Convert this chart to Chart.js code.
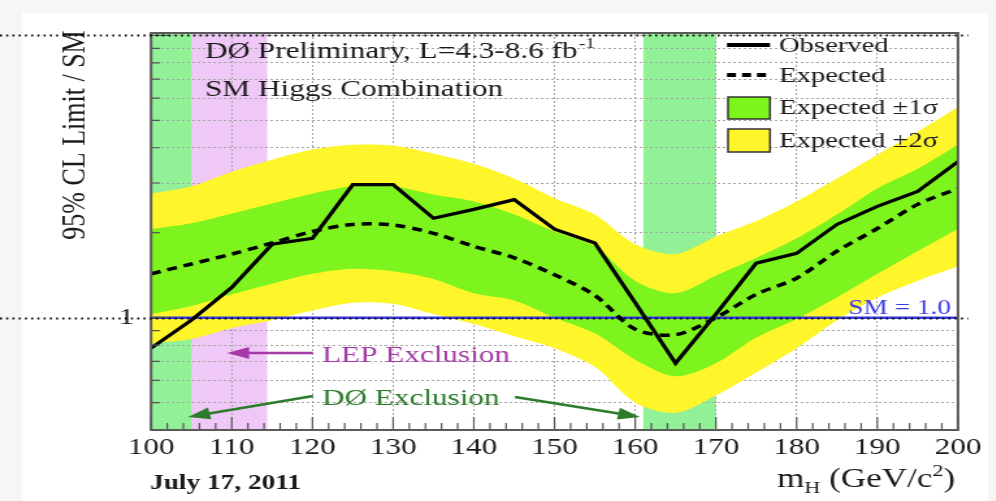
<!DOCTYPE html>
<html>
<head>
<meta charset="utf-8">
<script src="https://cdn.jsdelivr.net/npm/chart.js@4.4.0/dist/chart.umd.min.js"></script>
<style>
  html, body { margin: 0; padding: 0; background: #f6f6f6; overflow: hidden; }
  /* the reference is stretched sideways and soft, so draw narrow and stretch */
  #wrap { width: 766px; height: 501px; transform: scaleX(1.3); transform-origin: 0 0; filter: blur(0.45px); }
</style>
</head>
<body>
<div id="wrap"><canvas id="limitChart"></canvas></div>
<script>
// Higgs mass points (GeV/c^2)
const massPoints = [100, 105, 110, 115, 120, 125, 130, 135, 140, 145, 150, 155, 160, 165, 170, 175, 180, 185, 190, 195, 200];

// 95% CL limit / SM
const observedLimit = [0.78, 0.98, 1.28, 1.82, 1.91, 2.96, 2.96, 2.25, 2.42, 2.62, 2.06, 1.84, 1.13, 0.69, 1.03, 1.56, 1.69, 2.14, 2.48, 2.80, 3.57];
const expectedLimit = [1.43, 1.55, 1.68, 1.84, 2.02, 2.14, 2.13, 1.99, 1.79, 1.63, 1.42, 1.20, 0.91, 0.87, 1.00, 1.21, 1.38, 1.72, 2.07, 2.52, 2.87];
const plusOneSigma = [2.06, 2.16, 2.34, 2.54, 2.75, 2.92, 2.92, 2.73, 2.58, 2.32, 2.02, 1.79, 1.35, 1.22, 1.41, 1.63, 1.91, 2.32, 2.87, 3.37, 4.10];
const minusOneSigma = [1.03, 1.10, 1.21, 1.32, 1.43, 1.49, 1.46, 1.37, 1.22, 1.15, 1.00, 0.88, 0.71, 0.62, 0.69, 0.85, 0.99, 1.18, 1.43, 1.72, 2.06];
const plusTwoSigma = [2.75, 2.92, 3.29, 3.63, 3.94, 4.10, 4.07, 3.81, 3.51, 3.11, 2.65, 2.32, 1.82, 1.68, 1.94, 2.20, 2.58, 3.11, 3.78, 4.56, 5.58];
const minusTwoSigma = [0.81, 0.84, 0.92, 0.98, 1.06, 1.13, 1.12, 1.03, 0.95, 0.86, 0.78, 0.67, 0.50, 0.46, 0.53, 0.64, 0.78, 0.98, 1.18, 1.35, 1.52];
const smLevel = 1.0;

// Excluded mass ranges (GeV/c^2)
const lepExclusion = [100, 114.4];
const d0Exclusion = [[100, 105], [161, 170]];

// Axis ticks
const xTickValues = [100, 110, 120, 130, 140, 150, 160, 170, 180, 190, 200];
const yGridValues = [0.4, 0.5, 0.6, 0.7, 0.8, 0.9, 1, 2, 3, 4, 5, 6, 7, 8, 9, 10];
const yLabelValues = [1];

const SX = 1.3;           // sideways stretch of the page
const px = x => x / SX;   // reference x -> canvas x
const serif = '"Liberation Serif", "DejaVu Serif", serif';

const colors = {
    yellow: '#fff52b',
    green: '#7df41d',
    d0Band: '#92f096',
    lepBand: '#f0c8f7',
    sm: '#3b3be6',
    lep: '#a53aa8',
    d0Text: '#2c7c2c'
};

const toPoints = values => massPoints.map((m, i) => ({ x: m, y: values[i] }));

// Draw an arrow with a filled head
function arrow(ctx, x1, y1, x2, y2, color) {
    const a = Math.atan2(y2 - y1, x2 - x1);
    const c = Math.cos(a), s = Math.sin(a);
    ctx.strokeStyle = color;
    ctx.fillStyle = color;
    ctx.lineWidth = 2.5;
    ctx.beginPath();
    ctx.moveTo(x1, y1);
    ctx.lineTo(x2 - 12 * c, y2 - 12 * s);
    ctx.stroke();
    ctx.beginPath();
    ctx.moveTo(x2, y2);
    ctx.lineTo(x2 - 17 * c + 6 * s, y2 - 17 * s - 6 * c);
    ctx.lineTo(x2 - 17 * c - 6 * s, y2 - 17 * s + 6 * c);
    ctx.closePath();
    ctx.fill();
}

const decorPlugin = {
    id: 'decor',
    beforeDraw(chart) {
        const { ctx, chartArea: a, scales: { x } } = chart;
        ctx.save();
        ctx.fillStyle = '#ffffff';
        ctx.fillRect(px(22), 13, px(988) - px(22), chart.height - 13);
        // LEP band below, DØ bands above it
        const band = (r, color) => {
            const x0 = x.getPixelForValue(r[0]);
            const x1 = x.getPixelForValue(r[1]);
            ctx.fillStyle = color;
            ctx.fillRect(x0, a.top, x1 - x0, a.bottom - a.top);
        };
        band(lepExclusion, colors.lepBand);
        d0Exclusion.forEach(r => band(r, colors.d0Band));
        ctx.restore();
    },
    afterDraw(chart) {
        const { ctx, chartArea: a, scales: { x, y } } = chart;
        ctx.save();

        // tick marks inside the frame
        ctx.strokeStyle = '#555';
        ctx.lineWidth = 1.2;
        ctx.beginPath();
        for (let m = 100; m <= 200; m += 2) {
            const xp = x.getPixelForValue(m);
            ctx.moveTo(xp, a.bottom);
            ctx.lineTo(xp, a.bottom - (m % 10 === 0 ? 13 : 7));
        }
        yGridValues.forEach(v => {
            const yp = y.getPixelForValue(v);
            ctx.moveTo(a.left, yp);
            ctx.lineTo(a.left + (v === 1 || v === 10 ? px(18) : px(9)), yp);
        });
        ctx.stroke();

        // frame
        ctx.strokeStyle = '#5a5a5a';
        ctx.lineWidth = 2;
        ctx.strokeRect(a.left, a.top, a.right - a.left, a.bottom - a.top);

        // texts in the plot
        ctx.fillStyle = '#1a1a1a';
        ctx.textBaseline = 'alphabetic';
        ctx.font = '24px ' + serif;
        const lumi = 'DØ Preliminary, L=4.3-8.6 fb';
        ctx.fillText(lumi, px(205), 58);
        const lw = ctx.measureText(lumi).width;
        ctx.font = '15px ' + serif;
        ctx.fillText('-1', px(205) + lw + 1, 48);
        ctx.font = '24px ' + serif;
        ctx.fillText('SM Higgs Combination', px(205), 96);

        // legend
        ctx.strokeStyle = '#000';
        ctx.lineWidth = 4;
        ctx.beginPath();
        ctx.moveTo(px(727), 45);
        ctx.lineTo(px(770), 45);
        ctx.stroke();
        ctx.setLineDash([px(9), px(6)]);
        ctx.beginPath();
        ctx.moveTo(px(727), 75);
        ctx.lineTo(px(772), 75);
        ctx.stroke();
        ctx.setLineDash([]);
        ctx.lineWidth = 1.5;
        ctx.strokeStyle = '#333';
        ctx.fillStyle = colors.green;
        ctx.fillRect(px(728), 97, px(770) - px(728), 22);
        ctx.strokeRect(px(728), 97, px(770) - px(728), 22);
        ctx.fillStyle = colors.yellow;
        ctx.fillRect(px(728), 129, px(770) - px(728), 23);
        ctx.strokeRect(px(728), 129, px(770) - px(728), 23);
        ctx.fillStyle = '#1a1a1a';
        ctx.font = '22px ' + serif;
        ctx.fillText('Observed', px(779), 52);
        ctx.fillText('Expected', px(779), 82);
        ctx.fillText('Expected ±1σ', px(779), 114);
        ctx.fillText('Expected ±2σ', px(779), 147);

        // exclusion labels and arrows
        ctx.font = '24px ' + serif;
        ctx.fillStyle = colors.lep;
        ctx.fillText('LEP Exclusion', px(322), 362);
        arrow(ctx, px(313), 353, px(227), 353, colors.lep);
        ctx.fillStyle = colors.d0Text;
        ctx.fillText('DØ Exclusion', px(322), 405);
        arrow(ctx, px(313), 396, px(188), 417, colors.d0Text);
        arrow(ctx, px(515), 397, px(640), 417, colors.d0Text);

        // SM = 1.0 label
        ctx.font = '21px ' + serif;
        ctx.fillStyle = colors.sm;
        ctx.textAlign = 'right';
        ctx.fillText('SM = 1.0', px(951), 314);
        ctx.textAlign = 'left';

        // axis titles
        ctx.fillStyle = '#1a1a1a';
        ctx.font = 'bold 21px ' + serif;
        ctx.fillText('July 17, 2011', px(150), 489);
        let tx = px(777);
        const piece = (t, size, dy) => {
            ctx.font = size + 'px ' + serif;
            ctx.fillText(t, tx, 487 + dy);
            tx += ctx.measureText(t).width;
        };
        piece('m', 27, 0);
        piece('H', 17, 6);
        piece(' (GeV/c', 27, 0);
        piece('2', 17, -11);
        piece(')', 27, 0);

        ctx.save();
        ctx.translate(px(75), 135);
        ctx.rotate(-Math.PI / 2);
        ctx.textAlign = 'center';
        ctx.textBaseline = 'middle';
        ctx.font = '26px ' + serif;
        ctx.fillText('95% CL Limit / SM', 0, 0);
        ctx.restore();

        // dotted guide lines at 10 and 1
        ctx.strokeStyle = '#000';
        ctx.lineWidth = 2;
        ctx.setLineDash([1.5, 3.3]);
        [10, 1].forEach(v => {
            const yp = Math.round(y.getPixelForValue(v)) + 0.5;
            ctx.beginPath();
            ctx.moveTo(0, yp);
            ctx.lineTo(px(968), yp);
            ctx.stroke();
        });
        ctx.restore();
    }
};

const ctxLimit = document.getElementById('limitChart').getContext('2d');
const limitChart = new Chart(ctxLimit, {
    type: 'line',
    data: {
        datasets: [
            { data: toPoints(plusTwoSigma), fill: '+1', backgroundColor: colors.yellow, borderWidth: 0, tension: 0.3, order: 6 },
            { data: toPoints(minusTwoSigma), fill: false, borderWidth: 0, tension: 0.3, order: 5 },
            { data: toPoints(plusOneSigma), fill: '+1', backgroundColor: colors.green, borderWidth: 0, tension: 0.3, order: 4 },
            { data: toPoints(minusOneSigma), fill: false, borderWidth: 0, tension: 0.3, order: 3 },
            { data: [{ x: 100, y: smLevel }, { x: 200, y: smLevel }], borderColor: colors.sm, borderWidth: 2.5, order: 2 },
            { data: toPoints(expectedLimit), borderColor: '#000', borderWidth: 3.5, borderDash: [px(10), px(7)], tension: 0.3, order: 1 },
            { data: toPoints(observedLimit), borderColor: '#000', borderWidth: 3.2, tension: 0, order: 0 }
        ]
    },
    options: {
        responsive: true,
        maintainAspectRatio: false,
        animation: false,
        events: [],
        elements: { point: { radius: 0 } },
        layout: { padding: { left: 0, right: 29.1, top: 33, bottom: 0 } },
        plugins: {
            legend: { display: false },
            tooltip: { enabled: false }
        },
        scales: {
            x: {
                type: 'linear',
                min: 100,
                max: 200,
                afterBuildTicks: s => { s.ticks = xTickValues.map(v => ({ value: v })); },
                afterFit: s => { s.height = 71; },
                ticks: {
                    autoSkip: false,
                    maxRotation: 0,
                    padding: 3,
                    color: '#1a1a1a',
                    font: { family: serif, size: 24 }
                },
                grid: {
                    drawTicks: false,
                    color: c => (c.tick && (c.tick.value === 100 || c.tick.value === 200)) ? 'rgba(0,0,0,0)' : '#a6a6a6',
                    lineWidth: 1
                },
                border: { display: false, dash: [2, 2] }
            },
            y: {
                type: 'logarithmic',
                min: 0.4,
                max: 10.2,
                afterBuildTicks: s => { s.ticks = yGridValues.map(v => ({ value: v })); },
                afterFit: s => { s.width = 116.2; },
                ticks: {
                    autoSkip: false,
                    padding: 13,
                    color: '#1a1a1a',
                    font: { family: serif, size: 24 },
                    callback: v => yLabelValues.includes(v) ? String(v) : ''
                },
                grid: {
                    drawTicks: false,
                    color: c => (c.tick && (c.tick.value === 0.4 || c.tick.value === 1)) ? 'rgba(0,0,0,0)' : '#a6a6a6',
                    lineWidth: 1
                },
                border: { display: false, dash: [2, 2] }
            }
        }
    },
    plugins: [decorPlugin]
});
</script>
</body>
</html>
